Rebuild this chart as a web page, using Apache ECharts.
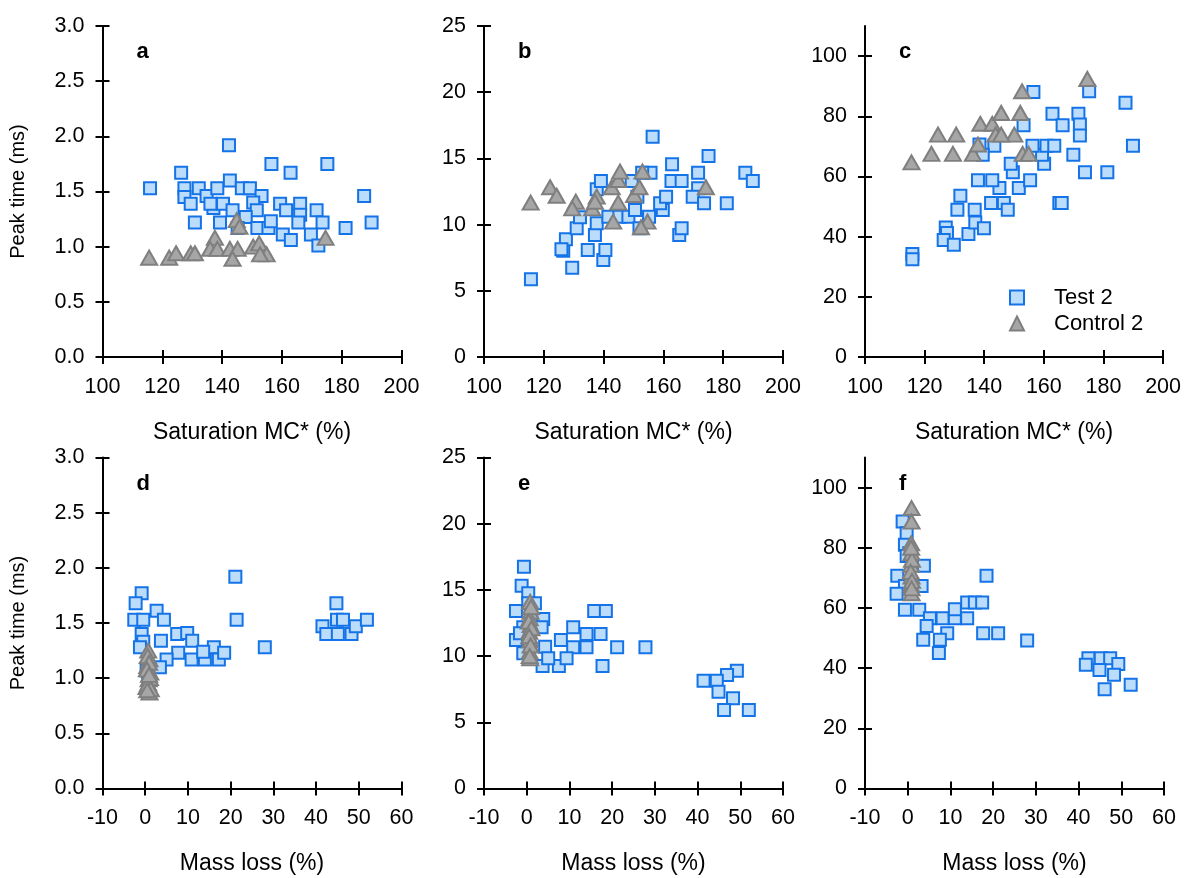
<!DOCTYPE html>
<html><head><meta charset="utf-8">
<script src="https://cdn.jsdelivr.net/npm/echarts@6/dist/echarts.min.js"></script>
<style>html,body{margin:0;padding:0;background:#fff}#c{width:1184px;height:878px}</style>
</head><body><div id="c"></div>
<script>
// ---- data ----
const seriesNames = ['Test 2', 'Control 2'];
const panelLetters = ['a', 'b', 'c', 'd', 'e', 'f'];
const xNameTop = 'Saturation MC* (%)';
const xNameBottom = 'Mass loss (%)';
const yName = 'Peak time (ms)';

const saturationAxis = [100, 200, 20];
const massLossAxis = [-10, 60, 10];
const peakAxisA = [0, 3, 0.5];
const peakAxisB = [0, 25, 5];
const peakAxisC = [0, 110, 20];
const peakTicksC = [0, 20, 40, 60, 80, 100];

const testA = [[115.9,1.53],[126.3,1.67],[142.3,1.92],[156.5,1.75],[162.9,1.67],[175.2,1.75],[127.4,1.53],[127.4,1.45],[129.5,1.39],[132.2,1.53],[134.8,1.46],[138.4,1.53],[142.6,1.60],[137.1,1.35],[140.3,1.39],[143.5,1.33],[146.6,1.53],[149.3,1.53],[153.2,1.46],[150.4,1.40],[151.6,1.33],[147.9,1.27],[159.4,1.39],[161.4,1.33],[166.1,1.39],[166.1,1.29],[171.6,1.33],[173.6,1.22],[130.9,1.22],[139.3,1.22],[145.2,1.17],[151.8,1.17],[155.5,1.17],[156.3,1.23],[160.3,1.11],[163.0,1.06],[165.5,1.22],[169.7,1.11],[172.2,1.01],[181.3,1.17],[187.5,1.46],[190.0,1.22],[136.1,1.39]];
const controlA = [[115.6,0.90],[122.3,0.90],[124.6,0.94],[129.5,0.94],[130.9,0.94],[137.6,1.08],[136.0,0.98],[138.4,0.98],[142.6,0.98],[145.2,0.98],[143.5,0.89],[144.9,1.24],[145.8,1.18],[150.4,1.00],[152.4,1.03],[154.9,0.93],[152.7,0.93],[174.6,1.08]];

const testB = [[115.7,5.87],[129.5,6.75],[126.5,8.03],[127.4,8.89],[134.7,8.08],[139.9,7.33],[140.6,8.08],[131.0,9.72],[137.1,9.21],[137.7,10.10],[132.1,10.55],[141.6,10.60],[145.3,10.60],[148.3,10.60],[150.5,11.10],[152.0,9.72],[155.2,10.60],[159.8,11.10],[158.9,11.61],[160.9,12.11],[151.3,12.11],[137.7,12.67],[139.1,13.29],[149.4,13.29],[155.7,13.92],[152.9,13.92],[156.4,16.64],[162.9,14.55],[162.7,13.29],[166.1,13.29],[171.6,13.92],[175.1,15.18],[171.6,12.74],[169.8,12.11],[173.6,11.61],[181.2,11.61],[187.4,13.92],[189.9,13.29],[165.3,9.21],[166.1,9.72],[125.9,8.13]];
const controlB = [[115.6,11.66],[122.1,12.82],[124.3,12.18],[130.7,11.73],[129.5,11.23],[136.2,11.23],[137.7,12.11],[137.1,11.73],[142.7,12.82],[144.9,13.37],[145.5,14.0],[144.9,11.66],[143.2,10.22],[150.2,12.24],[152.0,12.82],[153.0,14.0],[154.7,10.22],[152.5,9.80],[174.2,12.82]];

const testC = [[115.9,34.2],[115.9,32.5],[127.1,43.0],[127.5,41.2],[126.4,38.9],[129.8,37.3],[134.7,40.9],[137.0,44.7],[139.9,42.8],[131.0,48.9],[136.8,48.9],[132.0,53.6],[142.3,51.2],[146.6,51.2],[147.9,48.9],[145.1,56.2],[137.9,58.7],[142.7,58.7],[149.6,61.4],[151.6,56.2],[155.4,58.7],[148.9,64.2],[160.1,64.2],[159.4,67.2],[156.2,70.2],[160.9,70.2],[163.5,70.2],[143.4,70.2],[139.5,67.2],[138.4,70.6],[153.2,77.0],[162.9,80.8],[166.3,77.0],[171.6,80.8],[172.1,77.3],[172.1,73.6],[169.9,67.2],[173.8,61.4],[181.3,61.4],[189.9,70.2],[187.4,84.5],[175.2,88.3],[156.5,88.1],[165.2,51.2],[166.0,51.2]];
const controlC = [[115.6,64.7],[122.3,67.5],[124.5,73.9],[129.5,67.5],[130.6,73.9],[136.2,67.5],[137.9,70.6],[138.7,77.5],[142.7,77.5],[143.8,73.9],[145.7,81.1],[150.1,73.9],[152.1,81.1],[152.7,88.3],[152.9,67.5],[154.9,67.5],[174.6,92.4],[145.7,73.9]];

const testD = [[21.1,1.92],[21.4,1.53],[28.0,1.28],[-0.83,1.77],[-2.24,1.68],[-2.56,1.53],[-0.46,1.53],[2.67,1.61],[4.38,1.53],[-0.83,1.40],[-0.46,1.33],[3.68,1.34],[7.49,1.40],[9.83,1.41],[11.0,1.34],[7.72,1.23],[5.0,1.17],[10.86,1.17],[13.97,1.17],[16.07,1.28],[17.24,1.17],[18.48,1.23],[0.33,1.07],[0.71,1.01],[3.44,1.10],[13.57,1.24],[44.76,1.68],[44.9,1.53],[46.3,1.53],[41.5,1.47],[42.4,1.40],[45.1,1.40],[48.3,1.40],[49.3,1.47],[51.9,1.53],[-1.23,1.28]];
const controlD = [[0.7,1.25],[1.0,1.17],[0.5,1.11],[1.2,1.05],[0.8,0.99],[0.3,0.92],[1.0,0.87],[0.6,1.20],[0.9,1.14],[0.4,1.08],[1.1,1.00],[0.7,0.95],[1.3,0.90],[0.5,0.89],[0.9,1.03]];

const testE = [[-0.65,16.75],[-1.19,15.32],[0.36,14.74],[-2.52,13.41],[0.36,13.99],[1.92,13.99],[3.87,12.8],[3.49,12.17],[-0.81,12.17],[-2.52,11.22],[-0.81,10.21],[4.31,10.71],[8.0,11.22],[10.88,12.17],[14.0,11.67],[17.29,11.67],[15.8,13.41],[18.53,13.41],[10.88,10.66],[14.0,10.66],[21.17,10.66],[27.8,10.66],[3.72,9.25],[7.53,9.25],[9.33,9.83],[17.75,9.25],[49.2,8.9],[46.9,8.57],[41.4,8.14],[44.5,8.14],[44.9,7.31],[48.3,6.81],[46.2,5.93],[52.0,5.93],[5.03,9.83],[-1.58,11.72]];
const controlE = [[0.8,14.1],[0.9,13.35],[0.7,12.85],[0.9,12.35],[0.6,11.84],[0.8,11.2],[0.7,10.33],[0.8,9.83],[1.0,13.7],[0.5,12.6],[1.1,12.1],[0.6,11.5],[0.9,10.8],[0.7,10.0]];

const testF = [[-1.19,88.7],[-0.25,84.8],[-0.65,81.0],[0.36,78.2],[-0.25,77.3],[3.79,74.0],[-2.44,70.7],[3.25,67.3],[-0.65,67.3],[-2.6,64.7],[-0.65,59.4],[2.7,59.4],[18.45,70.7],[5.2,56.6],[8.17,56.6],[11.04,56.6],[13.92,56.6],[11.04,59.6],[13.92,61.8],[15.72,61.8],[17.43,61.8],[4.43,54.0],[9.25,51.6],[3.63,49.4],[7.53,49.4],[7.3,45.0],[17.66,51.6],[21.17,51.6],[27.96,49.2],[42.3,43.3],[45.2,43.3],[47.4,43.3],[41.7,41.1],[44.9,39.4],[49.3,41.4],[48.3,37.8],[52.2,34.5],[46.1,33.0]];
const controlF = [[0.9,93.2],[0.9,88.7],[0.8,81.5],[0.9,78.2],[0.8,74.3],[0.9,70.4],[0.8,67.7],[0.9,64.9],[1.0,76.0],[0.7,72.0],[1.0,69.0],[0.8,80.0],[0.9,66.5]];

// ---- chart ----
const FONT = "'Liberation Sans', Arial, Helvetica, sans-serif";
const panels = [
  {test: testA, control: controlA, x: saturationAxis, y: peakAxisA, dec: 1, xName: xNameTop, yName: yName},
  {test: testB, control: controlB, x: saturationAxis, y: peakAxisB, dec: 0, xName: xNameTop},
  {test: testC, control: controlC, x: saturationAxis, y: peakAxisC, dec: 0, xName: xNameTop, yTicks: peakTicksC},
  {test: testD, control: controlD, x: massLossAxis, y: peakAxisA, dec: 1, xName: xNameBottom, yName: yName},
  {test: testE, control: controlE, x: massLossAxis, y: peakAxisB, dec: 0, xName: xNameBottom},
  {test: testF, control: controlF, x: massLossAxis, y: peakAxisC, dec: 0, xName: xNameBottom, yTicks: peakTicksC}
];
const lefts = [102.5, 484, 865];
const tops = [26, 457.5];
const W = 299, H = 331;

const grid = [], xAxis = [], yAxis = [], series = [], title = [];
const lineStyle = {color: '#000', width: 2};

panels.forEach((p, i) => {
  const col = i % 3, row = Math.floor(i / 3);
  grid.push({left: lefts[col], top: tops[row], width: W, height: H, containLabel: false});
  const xBase = {type: 'value', gridIndex: i, position: 'bottom', min: p.x[0], max: p.x[1], interval: p.x[2], splitLine: {show: false}};
  xAxis.push(Object.assign({}, xBase, {
    name: p.xName, nameLocation: 'middle', nameGap: 64,
    nameTextStyle: {fontSize: 23, color: '#000', fontFamily: FONT},
    axisLine: {show: true, onZero: false, lineStyle},
    axisTick: {show: true, inside: false, length: 7, lineStyle},
    axisLabel: {fontSize: 21.5, color: '#000', fontFamily: FONT, margin: 19}
  }));
  xAxis.push(Object.assign({}, xBase, {
    axisLine: {show: false, onZero: false}, axisTick: {show: true, inside: true, length: 7, lineStyle}, axisLabel: {show: false}
  }));
  const yBase = {type: 'value', gridIndex: i, position: 'left', min: p.y[0], max: p.y[1], interval: p.y[2], splitLine: {show: false}};
  const tickExtra = p.yTicks ? {customValues: p.yTicks} : {};
  yAxis.push(Object.assign({}, yBase, {
    name: p.yName || '', nameLocation: 'middle', nameGap: 74,
    nameTextStyle: {fontSize: 20, color: '#000', fontFamily: FONT},
    axisLine: {show: true, onZero: false, lineStyle},
    axisTick: Object.assign({show: true, inside: false, length: 7, lineStyle}, tickExtra),
    axisLabel: Object.assign({fontSize: 21.5, color: '#000', fontFamily: FONT, margin: 18,
      formatter: v => v.toFixed(p.dec)}, tickExtra)
  }));
  yAxis.push(Object.assign({}, yBase, {
    axisLine: {show: false, onZero: false}, axisTick: Object.assign({show: true, inside: true, length: 7, lineStyle}, tickExtra), axisLabel: {show: false}
  }));
  series.push({
    name: seriesNames[0], type: 'scatter', xAxisIndex: i * 2, yAxisIndex: i * 2, data: p.test,
    symbol: 'rect', symbolSize: 12,
    itemStyle: {color: '#bcdcfc', borderColor: '#1473e6', borderWidth: 2, opacity: 1}
  });
  series.push({
    name: seriesNames[1], type: 'scatter', xAxisIndex: i * 2, yAxisIndex: i * 2, data: p.control,
    symbol: 'triangle', symbolSize: [16, 14],
    itemStyle: {color: '#a6a6a6', borderColor: '#7f7f7f', borderWidth: 2, opacity: 1}
  });
  title.push({text: panelLetters[i], left: lefts[col] + 29, top: tops[row] + 10,
    textStyle: {fontSize: 22, fontWeight: 'bold', color: '#000', fontFamily: FONT}});
});

const chart = echarts.init(document.getElementById('c'), null, {renderer: 'canvas'});
chart.setOption({
  animation: false,
  backgroundColor: '#fff',
  title, grid, xAxis, yAxis, series,
  legend: {
    data: seriesNames, orient: 'vertical', left: 1004, top: 281,
    itemWidth: 14, itemHeight: 14, itemGap: 3,
    textStyle: {fontSize: 22, color: '#000', fontFamily: FONT, padding: [0, 0, 0, 25], lineHeight: 23}
  }
});
</script>
</body></html>
